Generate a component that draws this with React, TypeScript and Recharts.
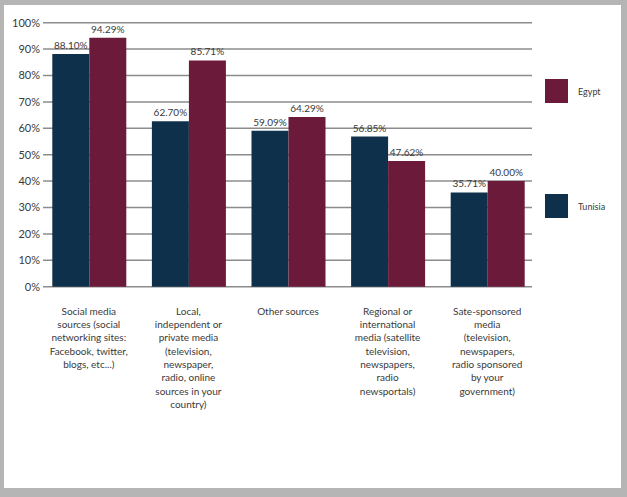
import { BarChart, Bar, XAxis, YAxis, CartesianGrid, Legend, LabelList } from "recharts";

const categories = [
  "Social media\nsources (social\nnetworking sites:\nFacebook, twitter,\nblogs, etc...)",
  "Local,\nindependent or\nprivate media\n(television,\nnewspaper,\nradio, online\nsources in your\ncountry)",
  "Other sources",
  "Regional or\ninternational\nmedia (satellite\ntelevision,\nnewspapers,\nradio\nnewsportals)",
  "Sate-sponsored\nmedia\n(television,\nnewspapers,\nradio sponsored\nby your\ngovernment)",
];
const tunisia = [88.1, 62.7, 59.09, 56.85, 35.71];
const egypt = [94.29, 85.71, 64.29, 47.62, 40.0];
const yTicks = [0, 10, 20, 30, 40, 50, 60, 70, 80, 90, 100];

const data = categories.map((name, i) => ({
  name,
  Tunisia: tunisia[i],
  Egypt: egypt[i],
}));

const FONT = "Lato, 'Open Sans', sans-serif";

const CategoryTick = (props: any) => {
  const { x, y, payload } = props;
  const lines = String(payload.value).split("\n");
  return (
    <text x={x} y={y} textAnchor="middle" fontSize={10} fill="#3a3a3a" fontFamily={FONT}>
      {lines.map((l: string, i: number) => (
        <tspan key={i} x={x} dy={i === 0 ? 28 : 13.3}>
          {l}
        </tspan>
      ))}
    </text>
  );
};

// Egypt sits on top in the reference legend
const LegendBox = (props: any) => {
  const order = ["Egypt", "Tunisia"];
  const items = [...(props.payload || [])].sort(
    (a: any, b: any) => order.indexOf(a.value) - order.indexOf(b.value)
  );
  return (
    <div style={{ fontFamily: FONT, fontSize: 9, color: "#3a3a3a" }}>
      {items.map((it: any, i: number) => (
        <div
          key={it.value}
          style={{ display: "flex", alignItems: "center", height: 24, marginTop: i === 0 ? 0 : 91 }}
        >
          <div style={{ width: 23, height: 24, background: it.color }} />
          <span style={{ marginLeft: 10 }}>{it.value}</span>
        </div>
      ))}
    </div>
  );
};

export default function App() {
  return (
    <div style={{ position: "absolute", left: 0, top: 0, width: 627, height: 497, background: "#b5b5b5" }}>
      <div style={{ position: "absolute", left: 4, top: 5, width: 617, height: 483, background: "#fff" }} />
      <div style={{ position: "absolute", left: 0, top: 0 }}>
        <BarChart
          width={627}
          height={497}
          data={data}
          margin={{ top: 22.7, right: 95, bottom: 10.3, left: 3 }}
          barCategoryGap={13.3}
          barGap={0}
        >
          <CartesianGrid vertical={false} stroke="#8c8c8c" strokeWidth={1.5} />
          <XAxis
            dataKey="name"
            interval={0}
            height={200}
            axisLine={false}
            tickLine={false}
            tickSize={0}
            tickMargin={0}
            padding={{ left: -4, right: -5 }}
            tick={<CategoryTick />}
          />
          <YAxis
            domain={[0, 100]}
            ticks={yTicks}
            width={40}
            axisLine={false}
            tickLine={false}
            tickSize={3}
            tickMargin={0}
            tickFormatter={(v: number) => `${v}%`}
            tick={{ fontSize: 11, fill: "#3a3a3a", fontFamily: FONT }}
          />
          <Legend
            layout="vertical"
            align="center"
            verticalAlign="middle"
            wrapperStyle={{ left: 545, top: 79, width: 80 }}
            content={<LegendBox />}
          />
          <Bar dataKey="Tunisia" fill="#0f304a" isAnimationActive={false}>
            <LabelList
              dataKey="Tunisia"
              position="top"
              offset={5}
              formatter={(v: any) => `${Number(v).toFixed(2)}%`}
              style={{ fontSize: 10, fill: "#3a3a3a", fontFamily: FONT }}
            />
          </Bar>
          <Bar dataKey="Egypt" fill="#6c1a3a" isAnimationActive={false}>
            <LabelList
              dataKey="Egypt"
              position="top"
              offset={5}
              formatter={(v: any) => `${Number(v).toFixed(2)}%`}
              style={{ fontSize: 10, fill: "#3a3a3a", fontFamily: FONT }}
            />
          </Bar>
        </BarChart>
      </div>
    </div>
  );
}
